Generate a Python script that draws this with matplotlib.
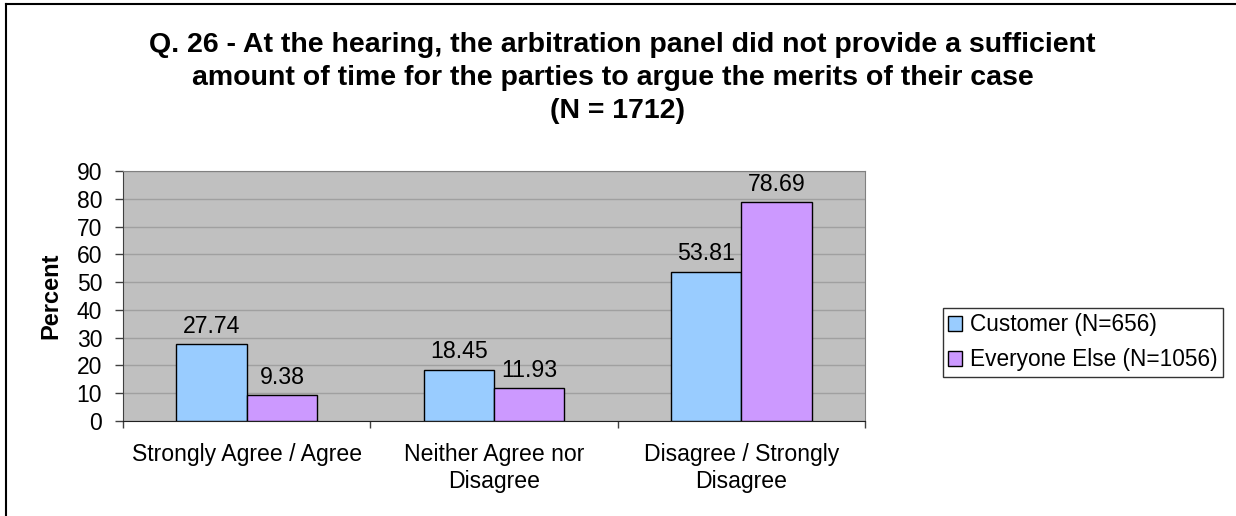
import matplotlib
matplotlib.use("Agg")
import matplotlib.pyplot as plt
import numpy as np
from matplotlib.lines import Line2D

plt.rcParams['font.family'] = ['Liberation Sans', 'DejaVu Sans']

categories = ["Strongly Agree / Agree", "Neither Agree nor\nDisagree", "Disagree / Strongly\nDisagree"]
customer = [27.74, 18.45, 53.81]
everyone = [9.38, 11.93, 78.69]
series_names = ["Customer (N=656)", "Everyone Else (N=1056)"]
yticks = [0, 10, 20, 30, 40, 50, 60, 70, 80, 90]
title_lines = ["Q. 26 - At the hearing, the arbitration panel did not provide a sufficient",
               "amount of time for the parties to argue the merits of their case"]
subtitle = "(N = 1712)"

W, H = 1236, 516
fig = plt.figure(figsize=(W / 100, H / 100), dpi=100)
ax = fig.add_axes([123 / W, 1 - 421 / H, (865 - 123) / W, (421 - 171) / H])
ax.set_facecolor("#C0C0C0")

x = np.arange(len(categories))
bw = 0.285
b1 = ax.bar(x - bw / 2, customer, bw, color="#99CCFF", edgecolor="black", linewidth=1, zorder=3, label=series_names[0])
b2 = ax.bar(x + bw / 2, everyone, bw, color="#CC99FF", edgecolor="black", linewidth=1, zorder=3, label=series_names[1])
for bars, vals in ((b1, customer), (b2, everyone)):
    for r, v in zip(bars, vals):
        ax.annotate(f"{v:.2f}", (r.get_x() + r.get_width() / 2, v), xytext=(0, 4.5),
                    textcoords="offset points", ha="center", va="bottom", fontsize=16.7, zorder=4)

ax.set_xlim(-0.5, 2.5)
ax.set_ylim(0, 90)
ax.set_yticks(yticks)
ax.set_yticklabels([str(t) for t in yticks], fontsize=16.5)
ax.yaxis.grid(True, color="#A0A0A0", linewidth=1, zorder=0)
ax.set_axisbelow(True)
ax.set_xticks(x)
ax.set_xticklabels(categories, fontsize=16.6)
ax.set_xticks([-0.5, 0.5, 1.5, 2.5], minor=True)
ax.tick_params(axis="x", which="major", length=0, pad=16)
ax.tick_params(axis="x", which="minor", length=5, width=1, color="#404040")
ax.tick_params(axis="y", length=6, width=1, color="#404040", pad=9)
for s in ["top", "right"]:
    ax.spines[s].set_color("#808080")
ax.spines["left"].set_color("#404040")
ax.spines["bottom"].set_color("#202020")
ax.set_ylabel("Percent", fontsize=17, fontweight="bold", labelpad=10)

fig.text(622 / W, 1 - 52 / H, title_lines[0], ha="center", va="baseline", fontsize=20.5, fontweight="bold")
fig.text(613 / W, 1 - 85 / H, title_lines[1], ha="center", va="baseline", fontsize=20.5, fontweight="bold")
fig.text(618 / W, 1 - 118 / H, subtitle, ha="center", va="baseline", fontsize=20.5, fontweight="bold")

leg = fig.legend(handles=[b1, b2], loc="upper left", bbox_to_anchor=(943 / W, 1 - 308 / H),
                 fontsize=16.3, frameon=True, fancybox=False, edgecolor="black",
                 handlelength=0.62, handleheight=0.62, handletextpad=0.35, borderpad=0.24,
                 labelspacing=0.53, borderaxespad=0)
leg.get_frame().set_linewidth(1)

fig.add_artist(Line2D([6 / W, 6 / W], [0, 1 - 4 / H], color="black", linewidth=1.5, transform=fig.transFigure))
fig.add_artist(Line2D([6 / W, 1], [1 - 4 / H, 1 - 4 / H], color="black", linewidth=1.5, transform=fig.transFigure))

fig.savefig("out.png", dpi=100)
